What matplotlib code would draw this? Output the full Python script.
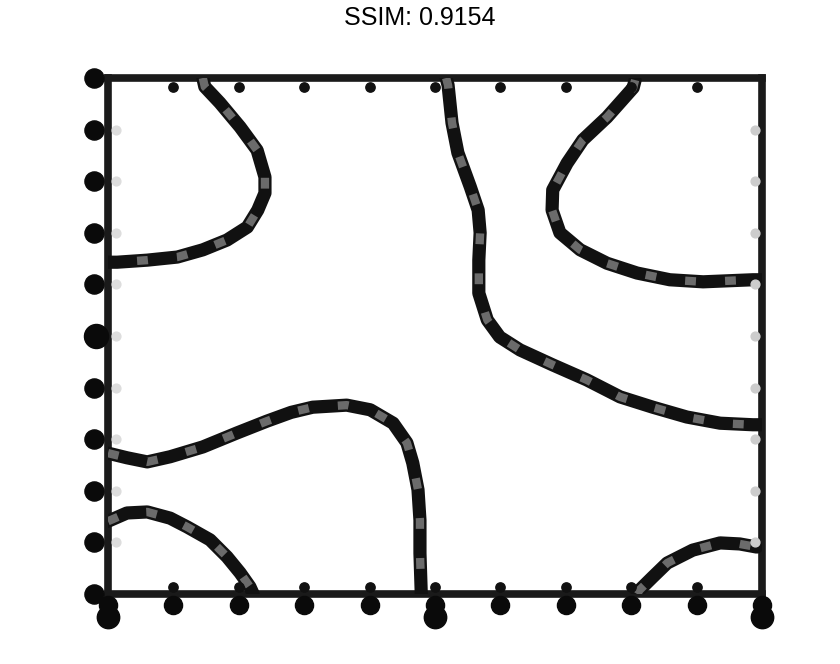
"""SSIM map look-alike: thick blotchy contour traces inside a bold frame."""

import matplotlib
matplotlib.use("Agg")
import matplotlib.pyplot as plt

TITLE = "SSIM: 0.9154"

# contour traces, in axis units (x 0..10, y 0..10)
curve_top_left_x = [1.45, 1.48, 1.71, 2.02, 2.28, 2.40, 2.40, 2.29, 2.13, 1.82, 1.45, 1.06, 0.60, 0.14, 0.0]
curve_top_left_y = [10.0, 9.83, 9.52, 9.05, 8.60, 8.08, 7.77, 7.44, 7.11, 6.86, 6.67, 6.53, 6.47, 6.43, 6.43]

curve_top_mid_x = [5.17, 5.20, 5.26, 5.35, 5.54, 5.66, 5.69, 5.67, 5.67, 5.80, 5.99, 6.30,
                   6.80, 7.32, 7.83, 8.33, 8.85, 9.36, 9.86, 10.0]
curve_top_mid_y = [10.0, 9.86, 9.13, 8.55, 7.89, 7.44, 7.00, 6.47, 5.83, 5.31, 4.98, 4.73,
                   4.44, 4.15, 3.82, 3.62, 3.43, 3.31, 3.28, 3.28]

curve_top_right_x = [8.06, 8.03, 7.63, 7.26, 7.02, 6.80, 6.79, 6.91, 7.22, 7.63, 8.09, 8.59, 9.10, 9.86, 10.0]
curve_top_right_y = [9.96, 9.81, 9.24, 8.80, 8.35, 7.83, 7.44, 7.00, 6.67, 6.41, 6.22, 6.09, 6.05, 6.09, 6.09]

curve_mid_left_x = [0.0, 0.29, 0.60, 0.95, 1.45, 1.97, 2.43, 2.80, 3.13, 3.65, 4.01, 4.36,
                    4.57, 4.66, 4.74, 4.77, 4.77, 4.79]
curve_mid_left_y = [2.73, 2.64, 2.56, 2.66, 2.85, 3.12, 3.35, 3.52, 3.62, 3.66, 3.57, 3.31,
                    2.93, 2.54, 2.02, 1.43, 0.79, 0.0]

curve_bot_left_x = [0.0, 0.29, 0.60, 0.95, 1.21, 1.56, 1.82, 2.02, 2.17, 2.22]
curve_bot_left_y = [1.41, 1.57, 1.59, 1.47, 1.30, 1.05, 0.72, 0.41, 0.14, 0.0]

curve_bot_right_x = [8.09, 8.13, 8.33, 8.55, 8.94, 9.36, 9.66, 9.92]
curve_bot_right_y = [0.0, 0.08, 0.33, 0.60, 0.85, 0.99, 0.97, 0.91]

tick_pos = [0, 1, 2, 3, 4, 5, 6, 7, 8, 9, 10]
big_bottom = [0, 5, 10]
big_left = [5]

plt.rcParams["font.family"] = ["Liberation Sans", "DejaVu Sans"]

fig = plt.figure(figsize=(8.4, 6.64), dpi=100)
ax = fig.add_axes([108 / 840, 1 - 594 / 664, 654 / 840, 516 / 664])
ax.set_xlim(0, 10)
ax.set_ylim(0, 10)
ax.set_xticks([])
ax.set_yticks([])
for s in ax.spines.values():
    s.set_linewidth(5.5)
    s.set_color("#1a1a1a")

curves = [
    (curve_top_left_x, curve_top_left_y),
    (curve_top_mid_x, curve_top_mid_y),
    (curve_top_right_x, curve_top_right_y),
    (curve_mid_left_x, curve_mid_left_y),
    (curve_bot_left_x, curve_bot_left_y),
    (curve_bot_right_x, curve_bot_right_y),
]
for cx, cy in curves:
    ax.plot(cx, cy, color="#111111", lw=9.5, solid_capstyle="round",
            solid_joinstyle="round", zorder=3)
    ax.plot(cx, cy, color="#8a8a8a", lw=6, dashes=(1.3, 3.5), alpha=0.75, zorder=4)

# frame tick marks rendered as blobs
ax.scatter(tick_pos[1:-1], [9.83] * 9, s=45, color="#111111", zorder=5, clip_on=False)
ax.scatter(tick_pos[1:-1], [0.14] * 9, s=45, color="#111111", zorder=5, clip_on=False)
ax.scatter([0.12] * 9, tick_pos[1:-1], s=40, color="#dddddd", zorder=5, clip_on=False)
ax.scatter([9.9] * 9, tick_pos[1:-1], s=40, color="#cccccc", zorder=5, clip_on=False)

# tick label blobs outside the frame
ax.scatter(tick_pos, [-0.22] * 11, s=170, color="#0a0a0a", zorder=5, clip_on=False)
ax.scatter(big_bottom, [-0.45] * 3, s=260, color="#0a0a0a", zorder=5, clip_on=False)
ax.scatter([-0.22] * 11, tick_pos, s=190, color="#0a0a0a", zorder=5, clip_on=False)
ax.scatter([-0.18] * 1, big_left, s=300, color="#0a0a0a", zorder=5, clip_on=False)

fig.text(0.5, 1 - 18 / 664, TITLE, ha="center", va="center", fontsize=18)

fig.savefig("out.png", dpi=100)
